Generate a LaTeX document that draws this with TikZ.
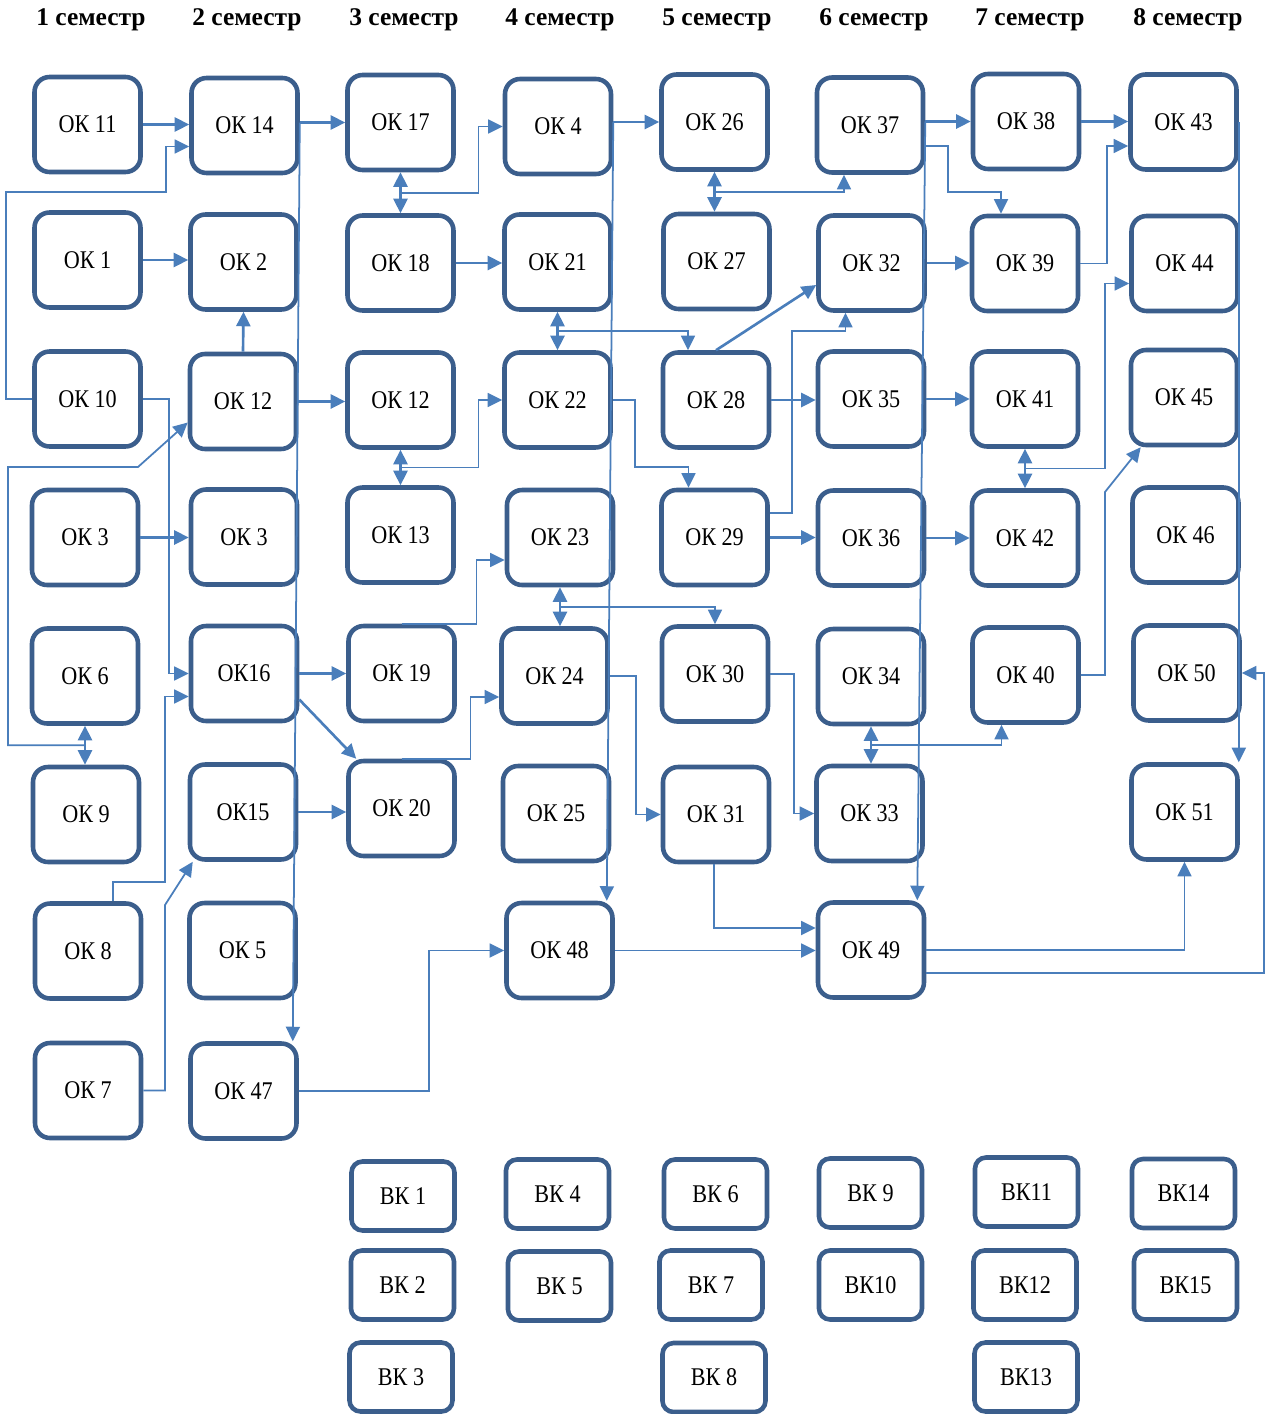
\documentclass[tikz,border=0pt]{standalone}
\usepackage{fontspec}
\setmainfont{Liberation Serif}
\newfontfamily\boxfont{Liberation Serif}[FakeStretch=0.87]
\usepackage{tikz}
\usetikzlibrary{arrows.meta, positioning}
\definecolor{boxblue}{RGB}{59,94,140}
\definecolor{lineblue}{RGB}{74,126,187}

\begin{document}
\begin{tikzpicture}[
    x=0.02cm, y=-0.02cm,
    ok/.style={rectangle, draw=boxblue, line width=2.6pt, rounded corners=0.3cm,
               minimum width=2.12cm, minimum height=1.9cm, inner sep=0pt,
               font=\boxfont\fontsize{14.5}{16}\selectfont, align=center},
    vk/.style={ok, rounded corners=0.22cm, minimum width=2.06cm, minimum height=1.38cm},
    sem/.style={font=\fontsize{14.5}{17}\selectfont\bfseries},
    arr/.style={-{Triangle[length=0.29cm,width=0.28cm]}, line width=1.5pt, color=lineblue},
    elb/.style={arr, line width=1pt},
    dbl/.style={{Triangle[length=0.29cm,width=0.28cm]}-{Triangle[length=0.29cm,width=0.28cm]},
                line width=1.5pt, color=lineblue}
]
\useasboundingbox (0,0) rectangle (1266,1414);

% Semesters
\node[sem] (sem1) at (91,20) {1 семестр};
\node[sem] (sem2) at (247,20) {2 семестр};
\node[sem] (sem3) at (404,20) {3 семестр};
\node[sem] (sem4) at (560,20) {4 семестр};
\node[sem] (sem5) at (717,20) {5 семестр};
\node[sem] (sem6) at (874,20) {6 семестр};
\node[sem] (sem7) at (1030,20) {7 семестр};
\node[sem] (sem8) at (1188,20) {8 семестр};

% 1 semester
\node[ok] (ok11) at (87.5,124.5) {ОК 11};
\node[ok] (ok1) at (87.5,260) {ОК 1};
\node[ok] (ok10) at (87.5,399) {ОК 10};
\node[ok] (ok3a) at (85,537.5) {ОК 3};
\node[ok] (ok6) at (85,676) {ОК 6};
\node[ok] (ok9) at (86,814.5) {ОК 9};
\node[ok] (ok8) at (88,951) {ОК 8};
\node[ok] (ok7) at (88,1090.5) {ОК 7};

% 2 semester
\node[ok] (ok14) at (244.5,125.5) {ОК 14};
\node[ok] (ok2) at (243.5,262) {ОК 2};
\node[ok] (ok12a) at (243,401.5) {ОК 12};
\node[ok] (ok3b) at (244,537) {ОК 3};
\node[ok] (ok16) at (244,673.5) {ОК16};
\node[ok] (ok15) at (243,812) {ОК15};
\node[ok] (ok5) at (242.5,950.5) {ОК 5};
\node[ok] (ok47) at (243.5,1091) {ОК 47};

% 3 semester
\node[ok] (ok17) at (400.5,122.5) {ОК 17};
\node[ok] (ok18) at (400.5,263) {ОК 18};
\node[ok] (ok12b) at (400.5,400) {ОК 12};
\node[ok] (ok13) at (400.5,535) {ОК 13};
\node[ok] (ok19) at (401.5,673.5) {ОК 19};
\node[ok] (ok20) at (401.5,808.5) {ОК 20};

% 4 semester
\node[ok] (ok4) at (558,126.5) {ОК 4};
\node[ok] (ok21) at (557.5,262) {ОК 21};
\node[ok] (ok22) at (557.5,400) {ОК 22};
\node[ok] (ok23) at (560,537.5) {ОК 23};
\node[ok] (ok24) at (554.5,676) {ОК 24};
\node[ok] (ok25) at (556,813.5) {ОК 25};
\node[ok] (ok48) at (559.5,950.5) {ОК 48};

% 5 semester
\node[ok] (ok26) at (714.5,122) {ОК 26};
\node[ok] (ok27) at (716.5,261.5) {ОК 27};
\node[ok] (ok28) at (716,400) {ОК 28};
\node[ok] (ok29) at (714.5,537.5) {ОК 29};
\node[ok] (ok30) at (715,674) {ОК 30};
\node[ok] (ok31) at (716,814.5) {ОК 31};

% 6 semester
\node[ok] (ok37) at (870,125) {ОК 37};
\node[ok] (ok32) at (871.5,263) {ОК 32};
\node[ok] (ok35) at (871,399) {ОК 35};
\node[ok] (ok36) at (871,538) {ОК 36};
\node[ok] (ok34) at (871,676.5) {ОК 34};
\node[ok] (ok33) at (869.5,813.5) {ОК 33};
\node[ok] (ok49) at (871,950) {ОК 49};

% 7 semester
\node[ok] (ok38) at (1026,121.5) {ОК 38};
\node[ok] (ok39) at (1025,263.5) {ОК 39};
\node[ok] (ok41) at (1025,399) {ОК 41};
\node[ok] (ok42) at (1025,538) {ОК 42};
\node[ok] (ok40) at (1025.5,675) {ОК 40};

% 8 semester
\node[ok] (ok43) at (1183.5,122) {ОК 43};
\node[ok] (ok44) at (1184.5,263.5) {ОК 44};
\node[ok] (ok45) at (1184,397.5) {ОК 45};
\node[ok] (ok46) at (1185.5,535) {ОК 46};
\node[ok] (ok50) at (1186.5,673) {ОК 50};
\node[ok] (ok51) at (1184.5,812) {ОК 51};

% Elective blocks
\node[vk] (vk1) at (403,1196) {ВК 1};
\node[vk] (vk2) at (402.5,1285) {ВК 2};
\node[vk] (vk3) at (401,1377) {ВК 3};
\node[vk] (vk4) at (557.5,1194) {ВК 4};
\node[vk] (vk5) at (559.5,1286) {ВК 5};
\node[vk] (vk6) at (715.5,1194) {ВК 6};
\node[vk] (vk7) at (711,1285) {ВК 7};
\node[vk] (vk8) at (714,1377.5) {ВК 8};
\node[vk] (vk9) at (870.5,1193) {ВК 9};
\node[vk] (vk10) at (870.5,1285) {ВК10};
\node[vk] (vk11) at (1026.5,1192) {ВК11};
\node[vk] (vk12) at (1025,1285) {ВК12};
\node[vk] (vk13) at (1026,1377) {ВК13};
\node[vk] (vk14) at (1183.5,1193.5) {ВК14};
\node[vk] (vk15) at (1185.5,1285) {ВК15};

% Straight arrows
\draw[arr] (ok11.east) -- (ok11.east -| ok14.west);
\draw[arr] (ok1.east) -- (ok1.east -| ok2.west);
\draw[arr] (ok12a.north) -- (ok2.south);
\draw[arr] (ok17.west -| ok14.east) -- (ok17.west);
\draw[arr] (ok12a.east) -- (ok12a.east -| ok12b.west);
\draw[arr] (ok3a.east) -- (ok3a.east -| ok3b.west);
\draw[arr] (ok16.east) -- (ok16.east -| ok19.west);
\draw[arr] ([yshift=-0.52cm]ok16.east) -- ([xshift=0.2cm]ok20.north west);
\draw[arr] (ok15.east) -- (ok15.east -| ok20.west);
\draw[arr] (ok18.east) -- (ok18.east -| ok21.west);
\draw[arr] (ok26.west -| ok4.east) -- (ok26.west);
\draw[arr] (ok28.north) -- ([yshift=-0.44cm]ok32.west);
\draw[arr] (ok28.east) -- (ok28.east -| ok35.west);
\draw[arr] (ok29.east) -- (ok29.east -| ok36.west);
\draw[arr] (ok38.west -| ok37.east) -- (ok38.west);
\draw[arr] (ok32.east) -- (ok32.east -| ok39.west);
\draw[arr] (ok35.east) -- (ok35.east -| ok41.west);
\draw[arr] (ok36.east) -- (ok36.east -| ok42.west);
\draw[arr] (ok38.east) -- (ok38.east -| ok43.west);
\draw[elb] (ok48.east) -- (ok48.east -| ok49.west);

% Two-way arrows
\draw[dbl] (ok6.south) -- coordinate[pos=0.5] (m69) (ok6.south |- ok9.north);
\draw[dbl] (ok17.south) -- coordinate[pos=0.5] (m1718) (ok18.north);
\draw[dbl] (ok12b.south) -- coordinate[pos=0.5] (m1213) (ok13.north);
\draw[dbl] (ok21.south) -- coordinate[pos=0.5] (m2122) (ok21.south |- ok22.north);
\draw[dbl] (ok23.south) -- coordinate[pos=0.5] (m2324) (ok23.south |- ok24.north);
\draw[dbl] (ok26.south) -- coordinate[pos=0.5] (m2627) (ok26.south |- ok27.north);
\draw[dbl] (ok34.south) -- coordinate[pos=0.5] (m3334) (ok34.south |- ok33.north);
\draw[dbl] (ok41.south) -- coordinate[pos=0.5] (m4142) (ok42.north);

% Branches
\draw[elb] (m69) -| (8,467) -- (138,467) -- ([yshift=-0.42cm]ok12a.west);
\draw[elb] (m1718) -- ++(78,0) |- (ok4.west);
\draw[elb] (m1213) -- ++(78,0) |- (ok22.west);
\draw[elb] (m2122) -| ([xshift=-0.56cm]ok28.north);
\draw[elb] (m2324) -| (ok30.north);
\draw[elb] (m2627) -| ([xshift=-0.52cm]ok37.south);
\draw[elb] (m3334) -| ([xshift=-0.48cm]ok40.south);
\draw[elb] (m4142) -- ++(80,0) |- ([yshift=-0.4cm]ok44.west);

% Elbow connectors
\draw[elb] (ok10.west) -- ++(-26,0) |- (166,192) |- ([yshift=-0.42cm]ok14.west);
\draw[elb] (ok10.east) -- ++(26,0) |- (ok16.west);
\draw[elb] ([xshift=0.5cm]ok8.north) |- (165,882) |- ([yshift=-0.46cm]ok16.west);
\draw[elb] (ok7.east) -| (165,905) -- ([xshift=0.1cm]ok15.south west);
\draw[elb] (ok19.north) -- ++(75,0) |- ([yshift=-0.45cm]ok23.west);
\draw[elb] (ok20.north) -- ++(69,0) |- ([yshift=-0.42cm]ok24.west);
\draw[elb] (ok22.east) -| (635,467) -| ([xshift=-0.52cm]ok29.north);
\draw[elb] ([yshift=0.49cm]ok29.east) -| (792,331) -| ([xshift=-0.52cm]ok32.south);
\draw[elb] (ok24.east) -- ++(26,0) |- (ok31.west);
\draw[elb] (ok30.east) -- ++(24,0) |- (ok33.west);
\draw[elb] ([yshift=-0.42cm]ok37.east) -| (948,192) -| ([xshift=-0.48cm]ok39.north);
\draw[elb] (ok39.east) -- ++(27,0) |- ([yshift=-0.48cm]ok43.west);
\draw[elb] (ok40.east) -| (1105,492) -- ([xshift=0.24cm]ok45.south west);
\draw[elb] ([xshift=-0.04cm]ok31.south) |- ([yshift=0.44cm]ok49.west);
\draw[elb] (ok47.east) -- ++(130,0) |- (ok48.west);
\draw[elb] (ok49.east) -| (ok51.south);
\draw[elb] ([yshift=-0.46cm]ok49.east) -- ++(338,0) |- (ok50.east);

% Long lines
\draw[elb] (ok17.west -| ok14.east) -- ([xshift=-0.12cm]ok47.north east);
\draw[elb] (ok26.west -| ok4.east) -- ([xshift=-0.16cm]ok48.north east);
\draw[elb] (ok38.west -| ok37.east) -- ([xshift=-0.18cm]ok49.north east);
\draw[elb] (ok43.east) -- (ok43.east |- ok51.north);

\end{tikzpicture}
\end{document}
